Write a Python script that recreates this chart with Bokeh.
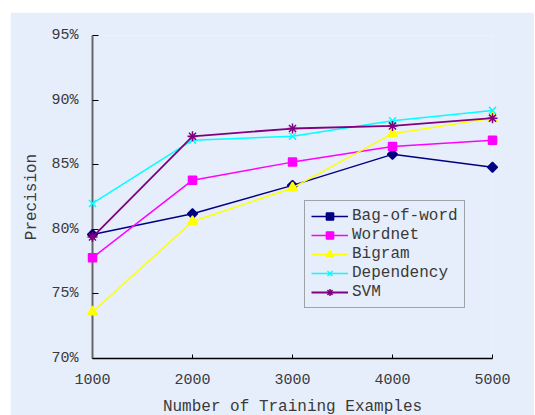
from bokeh.plotting import figure
from bokeh.models import FixedTicker, PrintfTickFormatter, Range1d, Legend
from bokeh.embed import file_html
from bokeh.resources import INLINE
import math

# ---- data ----
examples = [1000, 2000, 3000, 4000, 5000]
bag_of_word = [79.6, 81.2, 83.4, 85.8, 84.8]
wordnet = [77.8, 83.8, 85.2, 86.4, 86.9]
bigram = [73.6, 80.6, 83.2, 87.4, 88.6]
dependency = [82.0, 86.9, 87.2, 88.4, 89.2]
svm = [79.4, 87.2, 87.8, 88.0, 88.6]
y_ticks = [70, 75, 80, 85, 90, 95]

BG = "#E6EEFC"
FONT = "Liberation Mono"
TXT = "#3a3a3a"

p = figure(frame_width=400, frame_height=323, output_backend="svg", toolbar_location=None,
           x_range=Range1d(1000, 5000), y_range=Range1d(70, 95),
           min_border_left=82, min_border_right=42, min_border_top=23, min_border_bottom=56,
           background_fill_color=BG, border_fill_color=BG, outline_line_color=None,
           margin=(12, 0, 0, 10))
p.xgrid.visible = False
p.ygrid.visible = False

series = [
    ("Bag-of-word", bag_of_word, "#000080", "square", 7, math.pi / 4, 1.5),
    ("Wordnet", wordnet, "#FF00FF", "square", 8, 0, 1.5),
    ("Bigram", bigram, "#FFFF00", "triangle", 10, 0, 1.5),
    ("Dependency", dependency, "#00FFFF", "x", 10, 0, 1.5),
    ("SVM", svm, "#800080", "asterisk", 10, 0, 1.8),
]

items = []
for name, ys, col, mk, sz, ang, lw in series:
    l = p.line(examples, ys, line_color=col, line_width=lw, level="overlay")
    s = p.scatter(examples, ys, marker=mk, size=sz, angle=ang, fill_color=col, line_color=col,
                  line_width=1.5, level="overlay")
    items.append((name, [l, s]))

legend = Legend(items=items, location=(212, 50), orientation="vertical",
                background_fill_color=BG, background_fill_alpha=1.0,
                border_line_color="#555555", border_line_width=1.5,
                label_text_font=FONT, label_text_font_size="16px", label_text_color=TXT,
                glyph_width=37, glyph_height=18, label_height=18, label_standoff=4,
                padding=6, spacing=1, margin=0)
p.add_layout(legend, "center")

# axes
p.xaxis.ticker = FixedTicker(ticks=examples)
p.yaxis.ticker = FixedTicker(ticks=y_ticks)
p.yaxis.formatter = PrintfTickFormatter(format="%d%%")
p.xaxis.minor_tick_line_color = None
p.yaxis.minor_tick_line_color = None
p.xaxis.major_tick_in = 4
p.xaxis.major_tick_out = 0
p.yaxis.major_tick_in = 6
p.yaxis.major_tick_out = 0
p.xaxis.axis_line_color = "black"
p.xaxis.axis_line_width = 1.5
p.yaxis.axis_line_color = "#666666"
p.yaxis.axis_line_width = 2
p.xaxis.major_tick_line_color = "black"
p.yaxis.major_tick_line_color = "black"
for ax in (p.xaxis, p.yaxis):
    ax.major_label_text_font = FONT
    ax.major_label_text_font_size = "15px"
    ax.major_label_text_color = TXT
    ax.axis_label_text_font = FONT
    ax.axis_label_text_font_size = "16px"
    ax.axis_label_text_font_style = "normal"
    ax.axis_label_text_color = TXT
p.xaxis.axis_label = "Number of Training Examples"
p.yaxis.axis_label = "Precision"
p.xaxis.major_label_standoff = 15
p.xaxis.axis_label_standoff = 11
p.yaxis.major_label_standoff = 14
p.yaxis.axis_label_standoff = 7

open("out.html", "w").write(file_html(p, INLINE))
